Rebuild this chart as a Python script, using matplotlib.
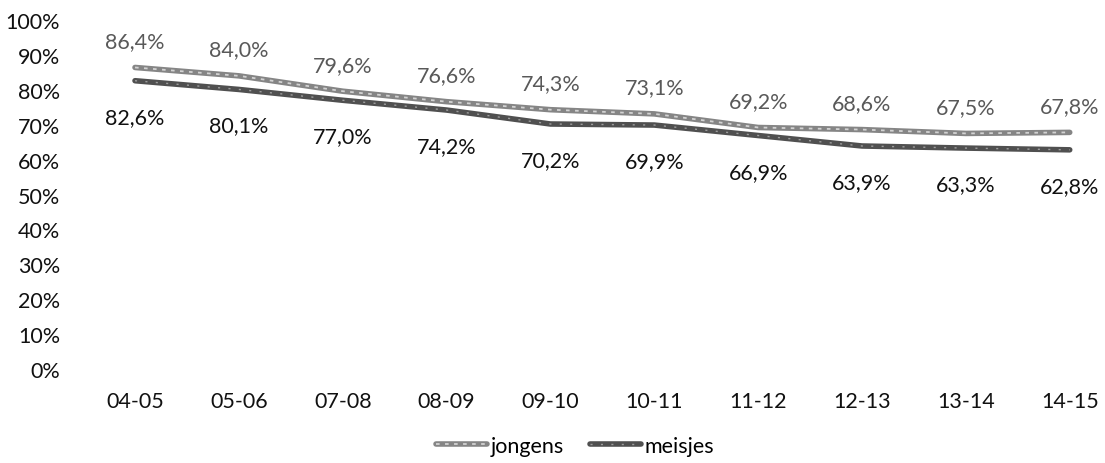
import matplotlib
matplotlib.use("Agg")
import matplotlib.pyplot as plt
from matplotlib.ticker import FuncFormatter
from matplotlib.legend_handler import HandlerTuple

categories = ["04-05", "05-06", "07-08", "08-09", "09-10", "10-11", "11-12", "12-13", "13-14", "14-15"]
jongens = [86.4, 84.0, 79.6, 76.6, 74.3, 73.1, 69.2, 68.6, 67.5, 67.8]
meisjes = [82.6, 80.1, 77.0, 74.2, 70.2, 69.9, 66.9, 63.9, 63.3, 62.8]
yticks = [0, 10, 20, 30, 40, 50, 60, 70, 80, 90, 100]

plt.rcParams['font.family'] = ['Lato', 'DejaVu Sans']
FS = 15.5

W, H = 1105, 464
fig = plt.figure(figsize=(W / 100, H / 100), dpi=100)
ax = fig.add_axes([81 / W, 94 / H, (1104 - 81) / W, 349 / H])

x = list(range(len(categories)))
c_j, t_j = "#858585", "#d2d2d2"
c_m, t_m = "#505050", "#9c9c9c"
lj, = ax.plot(x, jongens, color=c_j, lw=4, solid_capstyle="round")
lj2, = ax.plot(x, jongens, color=t_j, lw=1.3, dashes=(2, 3))
lm, = ax.plot(x, meisjes, color=c_m, lw=4, solid_capstyle="round")
lm2, = ax.plot(x, meisjes, color=t_m, lw=1.0, dashes=(1.5, 6))

def fmt(v):
    return f"{v:.1f}%".replace(".", ",")

for xi, v in zip(x, jongens):
    ax.annotate(fmt(v), (xi, v), xytext=(0, 19), textcoords="offset points",
                ha="center", va="center", fontsize=FS, color="#595959")
for xi, v in zip(x, meisjes):
    ax.annotate(fmt(v), (xi, v), xytext=(0, -26), textcoords="offset points",
                ha="center", va="center", fontsize=FS, color="#111111")

ax.set_xlim(-0.52, 9.33)
ax.set_ylim(0, 100)
ax.set_yticks(yticks)
ax.yaxis.set_major_formatter(FuncFormatter(lambda v, p: f"{int(v)}%"))
ax.set_xticks(x)
ax.set_xticklabels(categories)
ax.tick_params(axis="y", length=0, pad=15, labelsize=FS, colors="#111111")
ax.tick_params(axis="x", length=0, pad=16, labelsize=FS, colors="#111111")
for s in ax.spines.values():
    s.set_visible(False)

fig.legend([(lj, lj2), (lm, lm2)], ["jongens", "meisjes"],
           handler_map={tuple: HandlerTuple(ndivide=1, pad=0)},
           loc="center", bbox_to_anchor=(575 / W, 1 - 447 / H), ncol=2,
           frameon=False, fontsize=FS, handlelength=2.4, handletextpad=0.15,
           columnspacing=1.2)

fig.savefig("out.png", dpi=100)
